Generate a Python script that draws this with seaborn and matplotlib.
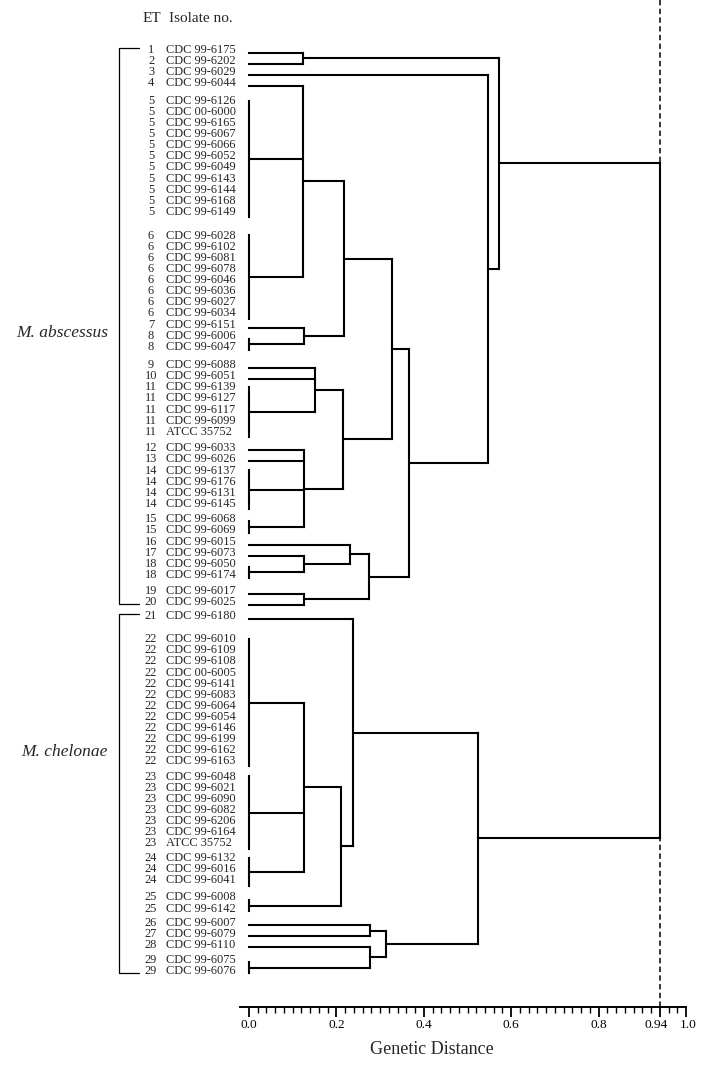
import numpy as np
import pandas as pd
import matplotlib
matplotlib.use("Agg")
import matplotlib.pyplot as plt
import matplotlib.transforms as mtransforms
import seaborn as sns

# ---------------- data ----------------
et_numbers = ([1, 2, 3, 4] + [5] * 11 + [6] * 8 + [7, 8, 8, 9, 10] + [11] * 5 +
              [12, 13] + [14] * 4 + [15, 15, 16, 17, 18, 18, 19, 20, 21] +
              [22] * 12 + [23] * 7 + [24] * 3 + [25, 25, 26, 27, 28, 29, 29])

isolates = [
    "CDC 99-6175", "CDC 99-6202", "CDC 99-6029", "CDC 99-6044",
    "CDC 99-6126", "CDC 00-6000", "CDC 99-6165", "CDC 99-6067", "CDC 99-6066",
    "CDC 99-6052", "CDC 99-6049", "CDC 99-6143", "CDC 99-6144", "CDC 99-6168",
    "CDC 99-6149",
    "CDC 99-6028", "CDC 99-6102", "CDC 99-6081", "CDC 99-6078", "CDC 99-6046",
    "CDC 99-6036", "CDC 99-6027", "CDC 99-6034",
    "CDC 99-6151", "CDC 99-6006", "CDC 99-6047",
    "CDC 99-6088", "CDC 99-6051",
    "CDC 99-6139", "CDC 99-6127", "CDC 99-6117", "CDC 99-6099", "ATCC 35752",
    "CDC 99-6033", "CDC 99-6026",
    "CDC 99-6137", "CDC 99-6176", "CDC 99-6131", "CDC 99-6145",
    "CDC 99-6068", "CDC 99-6069",
    "CDC 99-6015", "CDC 99-6073", "CDC 99-6050", "CDC 99-6174",
    "CDC 99-6017", "CDC 99-6025",
    "CDC 99-6180",
    "CDC 99-6010", "CDC 99-6109", "CDC 99-6108", "CDC 00-6005", "CDC 99-6141",
    "CDC 99-6083", "CDC 99-6064", "CDC 99-6054", "CDC 99-6146", "CDC 99-6199",
    "CDC 99-6162", "CDC 99-6163",
    "CDC 99-6048", "CDC 99-6021", "CDC 99-6090", "CDC 99-6082", "CDC 99-6206",
    "CDC 99-6164", "ATCC 35752",
    "CDC 99-6132", "CDC 99-6016", "CDC 99-6041",
    "CDC 99-6008", "CDC 99-6142",
    "CDC 99-6007", "CDC 99-6079", "CDC 99-6110", "CDC 99-6075", "CDC 99-6076",
]

species_names = ["M. abscessus", "M. chelonae"]
species_first_et = [1, 21]
species_last_et = [20, 29]

# merges: name, genetic distance, children (ET numbers or merge names)
merge_names = ["A", "B", "C", "D", "E", "F", "G", "H", "I", "J", "K", "L",
               "M", "N", "O", "P", "Q", "R", "S", "T", "U", "V", "W"]
merge_heights = [0.124, 0.124, 0.126, 0.218, 0.151, 0.126, 0.216, 0.328,
                 0.126, 0.232, 0.126, 0.275, 0.365, 0.546, 0.571,
                 0.126, 0.211, 0.239, 0.278, 0.278, 0.314, 0.523, 0.94]
merge_children = [
    [1, 2], [4, 5, 6], [7, 8], ["B", "C"], [9, 10, 11], [12, 13, 14, 15],
    ["E", "F"], ["D", "G"], [17, 18], [16, "I"], [19, 20], ["J", "K"],
    ["H", "L"], [3, "M"], ["A", "N"],
    [22, 23, 24], ["P", 25], [21, "Q"], [26, 27], [28, 29], ["S", "T"],
    ["R", "U"], ["O", "V"],
]
cutoff = 0.94

tick_values = [0.0, 0.2, 0.4, 0.6, 0.8, 0.94, 1.0]
tick_labels = ["0.0", "0.2", "0.4", "0.6", "0.8", "0.94", "1.0"]

# ---------------- layout (pixels) ----------------
W, H = 707, 1065
X0_PX, U_PX = 249.0, 437.0          # pixel of distance 0, pixels per unit
Y_START, PITCH = 50.0, 11.05
ROW_GAP = {5: 7, 6: 13, 7: 1, 9: 7, 12: 5, 14: 1, 15: 4, 16: 1, 19: 5,
           21: 3, 22: 12, 23: 5, 24: 4, 25: 6, 26: 3, 29: 4}
AXIS_Y = 1007


def px2x(px):
    return (px - X0_PX) / U_PX


sns.set_style("white")
plt.rcParams["font.family"] = ["Liberation Serif", "DejaVu Serif"]

fig = plt.figure(figsize=(W / 100, H / 100), dpi=100)
ax = fig.add_axes([0, 0, 1, 1])

# leaf label positions
label_y = []
y = Y_START
prev = None
for i, et in enumerate(et_numbers):
    if i > 0:
        y += PITCH
        if et != prev and et in ROW_GAP:
            y += ROW_GAP[et]
    label_y.append(y)
    prev = et
label_y = np.array(label_y)
line_y = label_y + 2.5

segs = []
sid = [0]


def add_seg(x0, y0, x1, y1):
    segs.append((sid[0], x0, y0))
    segs.append((sid[0], x1, y1))
    sid[0] += 1


pos = {}
ets = np.array(et_numbers)
for et in sorted(set(et_numbers)):
    idx = np.where(ets == et)[0]
    y0, y1 = line_y[idx[0]], line_y[idx[-1]]
    pos[et] = (0.0, (y0 + y1) / 2)
    if len(idx) > 1:
        pad = 3 if len(idx) > 2 else 0
        add_seg(0, y0 - pad, 0, y1 + pad)

for name, h, ch in zip(merge_names, merge_heights, merge_children):
    ys = []
    for c in ch:
        ch_h, cy = pos[c]
        add_seg(ch_h, cy, h, cy)
        ys.append(cy)
    add_seg(h, min(ys), h, max(ys))
    pos[name] = (h, (min(ys) + max(ys)) / 2)

seg_df = pd.DataFrame(segs, columns=["seg", "x", "y"])
sns.lineplot(data=seg_df, x="x", y="y", units="seg", estimator=None,
             sort=False, color="black", linewidth=1.5, ax=ax, legend=False,
             solid_capstyle="projecting")

# cut-off dashed line
ax.vlines(cutoff, 0, AXIS_Y, colors="black", linewidth=1.1,
          linestyles=(0, (3.5, 2.2)))

# leaf labels
for et, iso, ly in zip(et_numbers, isolates, label_y):
    ax.text(px2x(151), ly, str(et), ha="center", va="center", fontsize=8.9)
    ax.text(px2x(166), ly, iso, ha="left", va="center", fontsize=8.9)

ax.text(px2x(152), 19, "ET", ha="center", va="center", fontsize=11)
ax.text(px2x(169), 19, "Isolate no.", ha="left", va="center", fontsize=11)

# species brackets
for name, e0, e1, ty in zip(species_names, species_first_et, species_last_et,
                            [333, 752]):
    i0 = et_numbers.index(e0)
    i1 = len(et_numbers) - 1 - et_numbers[::-1].index(e1)
    yt, yb = label_y[i0] - 2, label_y[i1] + 2
    bx = px2x(119)
    ax.plot([px2x(139), bx, bx, px2x(139)], [yt, yt, yb, yb],
            color="black", linewidth=0.9)
    ax.text(px2x(108), ty, name, ha="right", va="center", fontsize=12.5,
            fontstyle="italic")

ax.text(px2x(432), 1049, "Genetic Distance", ha="center", va="center",
        fontsize=13)

ax.set_xlim(px2x(0), px2x(W))
ax.set_ylim(H, 0)
ax.axis("off")

# scale axis
left_val = -0.02
ax2 = fig.add_axes([(X0_PX + left_val * U_PX) / W,
                    (H - AXIS_Y) / H, (1.0 - left_val) * U_PX / W, 0.02])
ax2.set_xlim(left_val, 1.0)
ax2.set_ylim(0, 1)
ax2.patch.set_alpha(0)
for s in ["top", "left", "right"]:
    ax2.spines[s].set_visible(False)
ax2.spines["bottom"].set_linewidth(1.4)
ax2.spines["bottom"].set_color("black")
ax2.set_yticks([])
ax2.set_xticks(tick_values)
ax2.set_xticklabels(tick_labels)
ax2.set_xticks(np.round(np.arange(0, 1.0001, 0.02), 2), minor=True)
ax2.tick_params(axis="x", which="major", direction="out", length=7.5,
                width=1.3, labelsize=9.6, pad=1.2, colors="black",
                bottom=True)
ax2.tick_params(axis="x", which="minor", direction="out", length=4.5,
                width=1.0, bottom=True, colors="black")
lbls = ax2.get_xticklabels()
lbls[5].set_transform(lbls[5].get_transform() +
                      mtransforms.ScaledTranslation(-4 / 100, 0,
                                                    fig.dpi_scale_trans))
lbls[6].set_transform(lbls[6].get_transform() +
                      mtransforms.ScaledTranslation(2 / 100, 0,
                                                    fig.dpi_scale_trans))

fig.savefig("out.png", dpi=100, facecolor="white")
